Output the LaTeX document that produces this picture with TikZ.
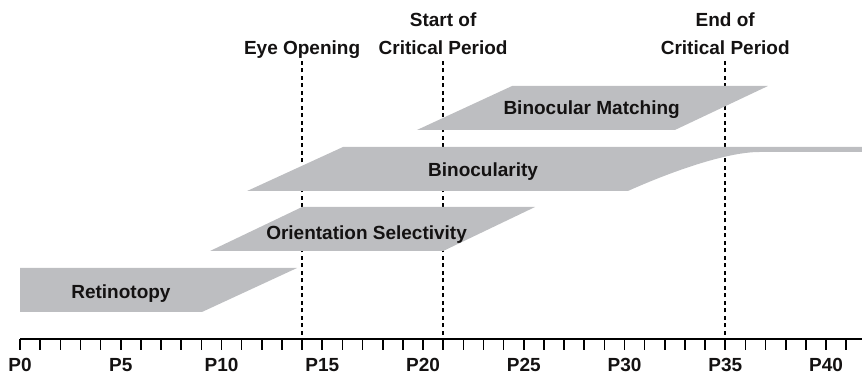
\documentclass[tikz,border=0pt]{standalone}
\usepackage{fontspec}
\setmainfont{Liberation Sans}
\definecolor{bargray}{RGB}{189,190,193}
\definecolor{labtext}{RGB}{20,18,18}
\tikzset{
  bar/.style={fill=bargray, draw=none},
  marker/.style={line width=1.6pt, dash pattern=on 4pt off 3.5pt},
  tick/.style={line width=1.6pt},
  lab/.style={anchor=base, inner sep=0pt, text=labtext, font=\bfseries\fontsize{19}{28}\selectfont}
}
\begin{document}
\begin{tikzpicture}[x=20.15pt,y=1pt]
\useasboundingbox (-0.9926,-36) rectangle (41.787,339);
% dashed markers
\draw[marker] (14,-11) -- (14,279);
\draw[marker] (21,-11) -- (21,279);
\draw[marker] (35,-11) -- (35,279);
\draw (14,284) node[lab] (eye) {Eye Opening};
\draw (21,284) node[lab, anchor=south, align=center] (cpstart) {Start of\\Critical Period};
\draw (35,284) node[lab, anchor=south, align=center] (cpend) {End of\\Critical Period};
% bars
\fill[bar] (0,27) -- (0,71) -- (13.75,71) -- (9.03,27) -- cycle;
\fill[bar] (9.43,88) -- (14,132) -- (25.56,132) -- (21,88) -- cycle;
\fill[bar] (11.27,148) -- (16.03,192) -- (41.787,192) -- (41.787,187) -- (36.7,187)
  .. controls (35,187) and (32.16,166) .. (30.17,148) -- cycle;
\fill[bar] (19.7,209) -- (24.42,253) -- (37.12,253) -- (32.5,209) -- cycle;
\draw (5.01,40.7) node[lab] (retino) {Retinotopy};
\draw (17.2,99.2) node[lab] (orient) {Orientation Selectivity};
\draw (22.98,162) node[lab] (binoc) {Binocularity};
\draw (28.37,224) node[lab] (match) {Binocular Matching};
% axis
\draw[tick] (0,0) -- (41.787,0);
\draw[tick] (0,0) -- (0,-11); \draw (0,-32.7) node[lab] (p0) {P0};
\draw[tick] (1,0) -- (1,-11); \draw[tick] (2,0) -- (2,-11); \draw[tick] (3,0) -- (3,-11); \draw[tick] (4,0) -- (4,-11);
\draw[tick] (5,0) -- (5,-11); \draw (5,-32.7) node[lab] (p5) {P5};
\draw[tick] (6,0) -- (6,-11); \draw[tick] (7,0) -- (7,-11); \draw[tick] (8,0) -- (8,-11); \draw[tick] (9,0) -- (9,-11);
\draw[tick] (10,0) -- (10,-11); \draw (10,-32.7) node[lab] (p10) {P10};
\draw[tick] (11,0) -- (11,-11); \draw[tick] (12,0) -- (12,-11); \draw[tick] (13,0) -- (13,-11); \draw[tick] (14,0) -- (14,-11);
\draw[tick] (15,0) -- (15,-11); \draw (15,-32.7) node[lab] (p15) {P15};
\draw[tick] (16,0) -- (16,-11); \draw[tick] (17,0) -- (17,-11); \draw[tick] (18,0) -- (18,-11); \draw[tick] (19,0) -- (19,-11);
\draw[tick] (20,0) -- (20,-11); \draw (20,-32.7) node[lab] (p20) {P20};
\draw[tick] (21,0) -- (21,-11); \draw[tick] (22,0) -- (22,-11); \draw[tick] (23,0) -- (23,-11); \draw[tick] (24,0) -- (24,-11);
\draw[tick] (25,0) -- (25,-11); \draw (25,-32.7) node[lab] (p25) {P25};
\draw[tick] (26,0) -- (26,-11); \draw[tick] (27,0) -- (27,-11); \draw[tick] (28,0) -- (28,-11); \draw[tick] (29,0) -- (29,-11);
\draw[tick] (30,0) -- (30,-11); \draw (30,-32.7) node[lab] (p30) {P30};
\draw[tick] (31,0) -- (31,-11); \draw[tick] (32,0) -- (32,-11); \draw[tick] (33,0) -- (33,-11); \draw[tick] (34,0) -- (34,-11);
\draw[tick] (35,0) -- (35,-11); \draw (35,-32.7) node[lab] (p35) {P35};
\draw[tick] (36,0) -- (36,-11); \draw[tick] (37,0) -- (37,-11); \draw[tick] (38,0) -- (38,-11); \draw[tick] (39,0) -- (39,-11);
\draw[tick] (40,0) -- (40,-11); \draw (40,-32.7) node[lab] (p40) {P40};
\draw[tick] (41,0) -- (41,-11);
\end{tikzpicture}
\end{document}
